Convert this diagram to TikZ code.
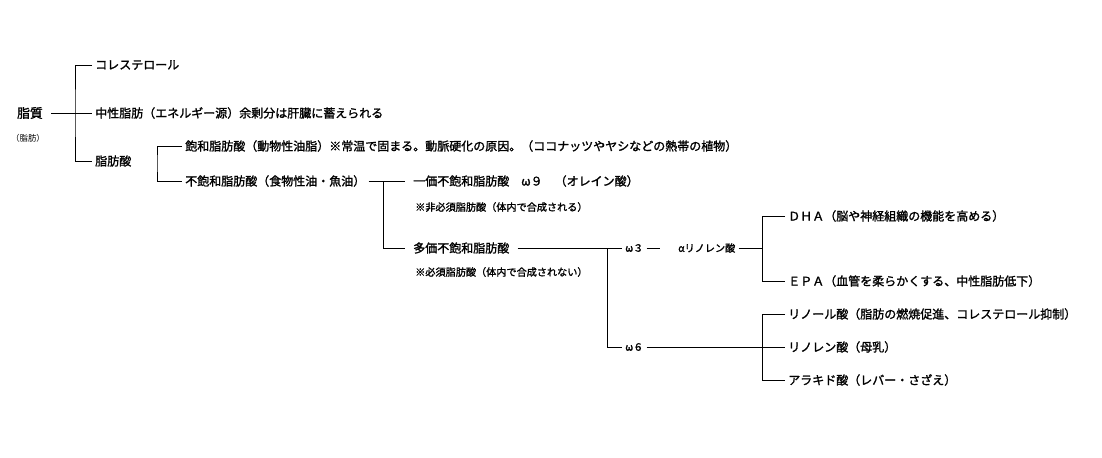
\documentclass[tikz,border=0pt]{standalone}
\usepackage{fontspec}
\setmainfont{Noto Sans CJK JP}[AutoFakeBold=1.5]
\usetikzlibrary{positioning}

\begin{document}
\begin{tikzpicture}[
    x=0.75pt, y=-0.75pt,
    item/.style={
        anchor=west,
        inner xsep=2.25pt,
        inner ysep=0pt,
        font=\fontsize{9}{10}\selectfont\bfseries
    },
    note/.style={
        anchor=west,
        inner xsep=2.25pt,
        inner ysep=0pt,
        font=\fontsize{7.6}{9}\selectfont\bfseries
    },
    branch/.style={line width=0.7pt}
]
\useasboundingbox (0,0) rectangle (1102,457);

% root
\node[item, anchor=center, inner xsep=6pt, font=\fontsize{9.6}{10}\selectfont\bfseries] (root) at (30,113) {脂質};
\node[anchor=center, inner sep=0pt, font=\fontsize{6.3}{7}\selectfont] (rootnote) at (28,138) {（脂肪）};

% level 1
\node[item] (chol) at (92,65) {コレステロール};
\node[item] (tg) at (92,113) {中性脂肪（エネルギー源）余剰分は肝臓に蓄えられる};
\node[item] (fa) at (92,161) {脂肪酸};
\coordinate (j1) at (75,113);
\draw[branch] (root.east) -- (j1);
\draw[branch] (chol.west) -| (j1) |- (fa.west);
\draw[branch] (j1) -- (tg.west);

% level 2
\node[item] (sfa) at (182,146) {飽和脂肪酸（動物性油脂）※常温で固まる。動脈硬化の原因。（ココナッツやヤシなどの熱帯の植物）};
\node[item] (ufa) at (182,181) {不飽和脂肪酸（食物性油・魚油）};
\coordinate (j2) at (157,163);
\draw[branch] (sfa.west) -| (j2) |- (ufa.west);

% level 3
\node[item, inner xsep=6pt] (mono) at (405,181) {一価不飽和脂肪酸　ω９　（オレイン酸）};
\node[note] (mononote) at (412,207) {※非必須脂肪酸（体内で合成される）};
\node[item, inner xsep=6pt] (poly) at (405,248) {多価不飽和脂肪酸};
\node[note] (polynote) at (412,272) {※必須脂肪酸（体内で合成されない）};
\coordinate (j3) at (383,181);
\draw[branch] (ufa.east) -- (mono.west);
\draw[branch] (j3) |- (poly.west);

% omega branches
\node[note] (w3) at (622,248) {ω３};
\node[note] (w6) at (622,347) {ω６};
\node[note] (ala) at (675,248) {αリノレン酸};
\coordinate (j4) at (607,248);
\draw[branch] (poly.east) -- (w3.west);
\draw[branch] (j4) |- (w6.west);
\draw[branch, shorten >=11pt] (w3.east) -- (ala.west);

% omega-3 group
\node[item] (dha) at (785,216) {ＤＨＡ（脳や神経組織の機能を高める）};
\node[item] (epa) at (785,281) {ＥＰＡ（血管を柔らかくする、中性脂肪低下）};
\coordinate (j5) at (762,248);
\draw[branch] (ala.east) -- (j5);
\draw[branch] (dha.west) -| (j5) |- (epa.west);

% omega-6 group
\node[item] (la) at (785,314) {リノール酸（脂肪の燃焼促進、コレステロール抑制）};
\node[item] (gla) at (785,347) {リノレン酸（母乳）};
\node[item] (aa) at (785,380) {アラキド酸（レバー・さざえ）};
\coordinate (j6) at (762,347);
\draw[branch] (w6.east) -- (gla.west);
\draw[branch] (la.west) -| (j6) |- (aa.west);

\end{tikzpicture}
\end{document}
